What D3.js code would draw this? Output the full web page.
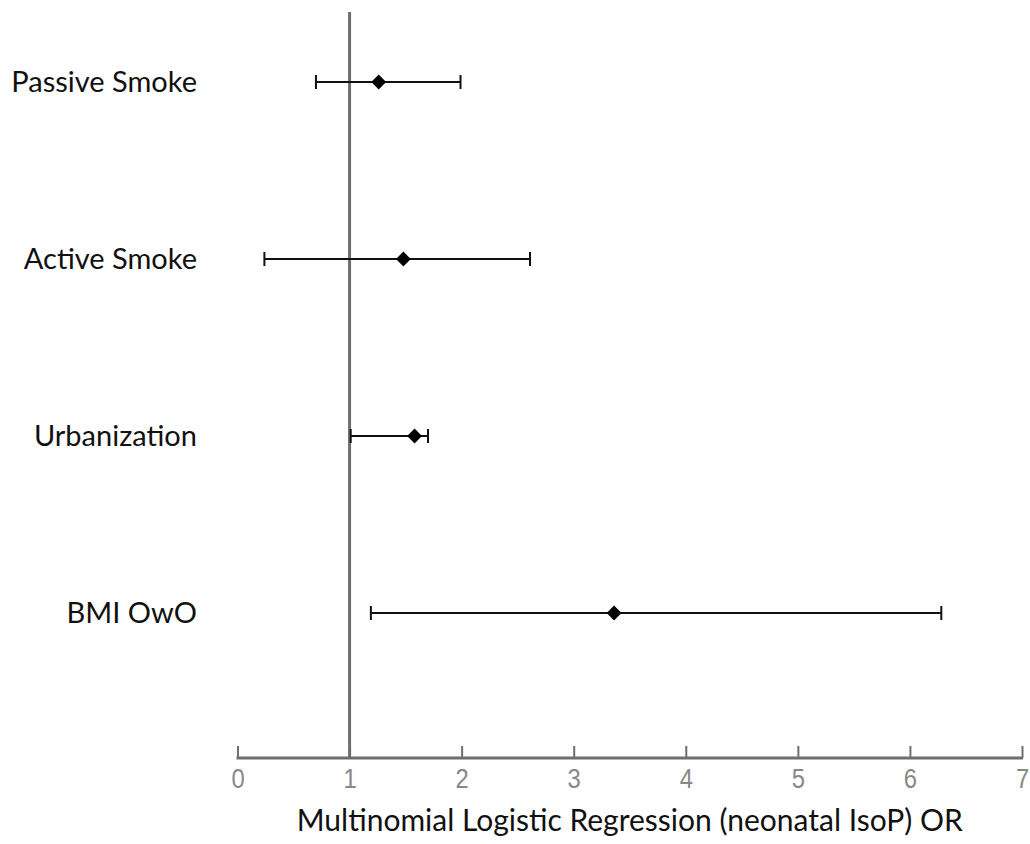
<!DOCTYPE html>
<html>
<head>
<meta charset="utf-8">
<script src="https://cdn.jsdelivr.net/npm/d3@7"></script>
<style>
  body { margin: 0; background: #fff; }
  svg { display: block; font-family: Lato, "Open Sans", sans-serif; }
</style>
</head>
<body>
<div id="container"></div>
<script>
// chart values
var categories = ["Passive Smoke", "Active Smoke", "Urbanization", "BMI OwO"];
var estimates = [1.26, 1.48, 1.58, 3.36];
var lowerCI = [0.70, 0.24, 1.01, 1.19];
var upperCI = [1.99, 2.61, 1.70, 6.28];
var tickValues = [0, 1, 2, 3, 4, 5, 6, 7];
var refValue = 1;
var xTitle = "Multinomial Logistic Regression (neonatal IsoP) OR";

// define svg
var width = 1030, height = 844;
var svg = d3.select("#container")
  .append("svg")
  .attr("width", width)
  .attr("height", height);

// scales
var xScale = d3.scaleLinear()
  .domain([0, 7])
  .range([237.5, 1022]);

var yScale = d3.scalePoint()
  .domain(categories)
  .range([82, 613]);

var axisY = 758;

// x axis
var xAxis = svg.append("g")
  .attr("transform", "translate(0," + axisY + ")")
  .call(d3.axisBottom(xScale)
    .tickValues(tickValues)
    .tickSize(0)
    .tickPadding(0)
    .tickFormat(d3.format("d")));

xAxis.select(".domain").remove();
xAxis.selectAll(".tick line").remove();

xAxis.append("line")
  .attr("x1", xScale(0) - 1)
  .attr("x2", xScale(7) + 1)
  .attr("stroke", "#6e6e6e")
  .attr("stroke-width", 3);

xAxis.selectAll(".tick")
  .append("line")
  .attr("y1", 0)
  .attr("y2", -12)
  .attr("stroke", "#6e6e6e")
  .attr("stroke-width", 2);

// digits look slightly condensed in the original
xAxis.selectAll(".tick text")
  .attr("y", 0)
  .attr("dy", "0.32em")
  .attr("transform", "translate(0,21) scale(0.85,1)")
  .attr("fill", "#888")
  .style("font-size", "28px")
  .style("font-weight", 300);

// reference line at OR = 1
svg.append("line")
  .attr("x1", xScale(refValue))
  .attr("x2", xScale(refValue))
  .attr("y1", 12)
  .attr("y2", axisY)
  .attr("stroke", "#6e6e6e")
  .attr("stroke-width", 3);

// category labels
svg.selectAll(".cat")
  .data(categories)
  .enter().append("text")
  .attr("class", "cat")
  .attr("x", 197)
  .attr("y", function(d) { return yScale(d); })
  .attr("dy", "0.35em")
  .attr("text-anchor", "end")
  .attr("fill", "#111")
  .style("font-size", "29px")
  .text(function(d) { return d; });

// error bars
var rows = svg.selectAll(".row")
  .data(categories)
  .enter().append("g")
  .attr("class", "row")
  .attr("transform", function(d) { return "translate(0," + yScale(d) + ")"; });

rows.append("line")
  .attr("x1", function(d, i) { return xScale(lowerCI[i]); })
  .attr("x2", function(d, i) { return xScale(upperCI[i]); })
  .attr("stroke", "#111")
  .attr("stroke-width", 2);

rows.append("line")
  .attr("x1", function(d, i) { return xScale(lowerCI[i]); })
  .attr("x2", function(d, i) { return xScale(lowerCI[i]); })
  .attr("y1", -7).attr("y2", 7)
  .attr("stroke", "#111")
  .attr("stroke-width", 2);

rows.append("line")
  .attr("x1", function(d, i) { return xScale(upperCI[i]); })
  .attr("x2", function(d, i) { return xScale(upperCI[i]); })
  .attr("y1", -7).attr("y2", 7)
  .attr("stroke", "#111")
  .attr("stroke-width", 2);

// point estimates
rows.append("path")
  .attr("d", d3.symbol().type(d3.symbolDiamond2).size(140))
  .attr("transform", function(d, i) { return "translate(" + xScale(estimates[i]) + ",0)"; })
  .attr("fill", "#000");

// axis title
svg.append("text")
  .attr("x", (xScale(0) + xScale(7)) / 2)
  .attr("y", 820)
  .attr("dy", "0.35em")
  .attr("text-anchor", "middle")
  .attr("fill", "#111")
  .style("font-size", "30px")
  .text(xTitle);
</script>
</body>
</html>
